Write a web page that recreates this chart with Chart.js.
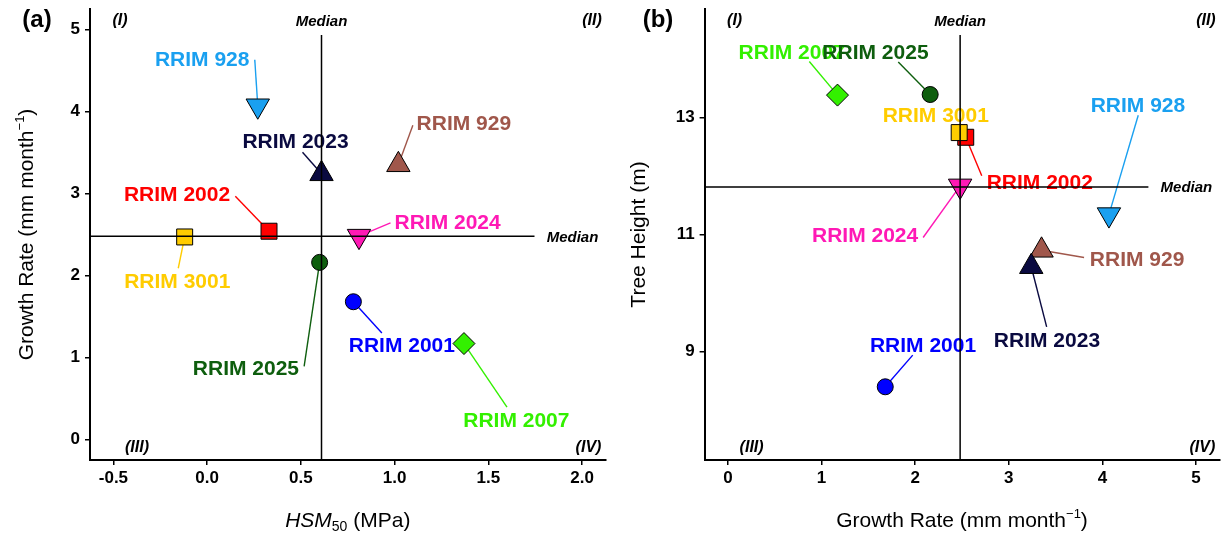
<!DOCTYPE html>
<html><head><meta charset="utf-8">
<script src="https://cdn.jsdelivr.net/npm/chart.js@4/dist/chart.umd.min.js"></script>
<style>
html,body{margin:0;padding:0;background:#fff;overflow:hidden}
#wrap{position:relative;width:1225px;height:535px;background:#fff}
canvas{position:absolute;top:0}
</style></head><body>
<div id="wrap">
<canvas id="ca" width="612" height="535" style="left:0"></canvas>
<canvas id="cb" width="613" height="535" style="left:612px"></canvas>
</div>
<script>
// ---------- data ----------
const cultivars  = ['RRIM 929','RRIM 2001','RRIM 2002','RRIM 2007','RRIM 2023','RRIM 2024','RRIM 2025','RRIM 3001','RRIM 928'];
const hsm50      = [1.02, 0.78, 0.33, 1.37, 0.61, 0.81, 0.60, -0.12, 0.27];
const growthRate = [3.35, 1.68, 2.54, 1.17, 3.24, 2.48, 2.16, 2.47, 4.07];
const treeHeight = [10.73, 8.40, 12.66, 13.38, 10.45, 11.83, 13.39, 12.74, 11.34];
const medianHSM50 = 0.61;
const medianGrowthRate = 2.48;
const medianTreeHeight = 11.81;
const ticksHSM50 = [-0.5, 0, 0.5, 1, 1.5, 2];
const ticksGrowth = [0, 1, 2, 3, 4, 5];
const ticksHeight = [9, 11, 13];

// ---------- styles ----------
const FONT = "'Liberation Sans', Arial, sans-serif";
const colors   = ['#A0574B','#0000FF','#FF0000','#33F000','#0A0A40','#FF19B5','#0E5E0E','#FFCC00','#1AA0F0'];
const shapes   = ['triangle','circle','rect','rectRot','triangle','triangle','circle','rect','triangle'];
const rotations= [0,0,0,0,0,180,0,0,180];
const radii    = [13.5,8,11.3,11,13.5,13.5,8,11.3,13.5];

// label layout (pixel offsets from the point): text centre and leader-line start
const layoutA = {
  text: [[65.5,-42],[48.5,42.6],[-92,-37.3],[52.4,75.8],[-26,-33.6],[88.6,-14.2],[-73.7,105.4],[-7.4,43.3],[-55.6,-47.7]],
  line: [[14.5,-39.6],[28.5,31.3],[-33.7,-35],[43,63.5],[-19,-21.6],[31.5,-13.2],[-15.5,104],[-6.4,31.3],[-3,-46]]
};
const layoutB = {
  text: [[95.5,8.4],[37.8,-42.7],[74,43.8],[-45.8,-43.6],[15.7,72.4],[-95,48.3],[-54.7,-42.6],[-23.4,-18.5],[29,-110.4]],
  line: [[42.5,7.2],[27.5,-31.7],[16,38.5],[-28.2,-33.6],[15.4,60.1],[-37,51.6],[-31.9,-32.6],null,[29.3,-99.4]]
};

function drawRich(ctx, parts, cx, baseY) {
  let total = 0;
  parts.forEach(p => { ctx.font = p.font; p.w = ctx.measureText(p.t).width; total += p.w; });
  let x = cx - total / 2;
  ctx.textAlign = 'left'; ctx.textBaseline = 'alphabetic';
  parts.forEach(p => { ctx.font = p.font; ctx.fillText(p.t, x, baseY + (p.dy || 0)); x += p.w; });
}
const growthTitle = () => [
  {t:'Growth Rate (mm month', font:`21px ${FONT}`},
  {t:'\u22121', font:`13px ${FONT}`, dy:-9},
  {t:')', font:`21px ${FONT}`}
];

const quadPlugin = {
  id: 'quad',
  beforeDatasetsDraw(chart, args, o) {
    const ctx = chart.ctx;
    const meta = chart.getDatasetMeta(0);
    ctx.save();
    meta.data.forEach((pt, i) => {
      const ls = o.layout.line[i];
      if (ls) {
        ctx.strokeStyle = colors[i]; ctx.lineWidth = 1.4;
        ctx.beginPath(); ctx.moveTo(pt.x + ls[0], pt.y + ls[1]); ctx.lineTo(pt.x, pt.y); ctx.stroke();
      }
    });
    ctx.font = `bold 21px ${FONT}`;
    ctx.textAlign = 'center'; ctx.textBaseline = 'alphabetic';
    meta.data.forEach((pt, i) => {
      const t = o.layout.text[i];
      ctx.fillStyle = colors[i];
      ctx.fillText(cultivars[i], pt.x + t[0], pt.y + t[1] + 7.5);
    });
    ctx.restore();
  },
  afterDatasetsDraw(chart, args, o) {
    const {ctx, chartArea: ca, scales: {x, y}} = chart;
    const mx = x.getPixelForValue(o.medianX), my = y.getPixelForValue(o.medianY);
    ctx.save();
    ctx.strokeStyle = '#000'; ctx.lineWidth = 1.5;
    ctx.beginPath();
    ctx.moveTo(ca.left, my); ctx.lineTo(ca.right - 71, my);
    ctx.moveTo(mx, 35); ctx.lineTo(mx, ca.bottom);
    ctx.stroke();
    ctx.fillStyle = '#000';
    ctx.font = `italic bold 15px ${FONT}`;
    ctx.textAlign = 'center'; ctx.textBaseline = 'alphabetic';
    ctx.fillText('Median', ca.right - 33, my + 5.4);
    ctx.fillText('Median', mx, 26);
    ctx.font = `italic bold 16px ${FONT}`;
    ctx.fillText('(I)', ca.left + 30, 25);
    ctx.fillText('(II)', ca.right - 13.5, 25);
    ctx.fillText('(III)', ca.left + 47, 452);
    ctx.fillText('(IV)', ca.right - 17, 452);
    ctx.font = `bold 24px ${FONT}`;
    ctx.fillText(o.letter, o.letterX, 27);
    const cx = (ca.left + ca.right) / 2;
    drawRich(ctx, o.xTitle(), cx, 527);
    ctx.save();
    ctx.translate(33, (ca.top + ca.bottom) / 2);
    ctx.rotate(-Math.PI / 2);
    drawRich(ctx, o.yTitle(), 0, 0);
    ctx.restore();
    ctx.restore();
  }
};

function panel(id, xs, ys, cfg) {
  const tickFont = {family: FONT, size: 17, weight: 'bold'};
  const zeroPad = s => { s.paddingTop = 0; s.paddingBottom = 0; s.paddingLeft = 0; s.paddingRight = 0; };
  new Chart(document.getElementById(id), {
    type: 'scatter',
    data: {datasets: [{
      data: xs.map((v, i) => ({x: v, y: ys[i]})),
      pointStyle: shapes, pointRotation: rotations,
      pointRadius: radii, pointHoverRadius: radii,
      backgroundColor: colors, borderColor: '#000', borderWidth: 1
    }]},
    options: {
      responsive: false, animation: false, events: [],
      layout: {autoPadding: false, padding: {left: 0, right: cfg.padRight, top: 9, bottom: 0}},
      plugins: {legend: {display: false}, tooltip: {enabled: false}, quad: cfg},
      scales: {
        x: {
          type: 'linear', position: 'bottom', min: cfg.xMin, max: cfg.xMax,
          border: {display: true, color: '#000', width: 2},
          grid: {display: true, drawOnChartArea: false, drawTicks: true, tickLength: 5, color: '#000', lineWidth: 1.5},
          ticks: {font: tickFont, color: '#000', padding: 3, maxRotation: 0, callback: cfg.xFmt},
          afterBuildTicks: s => { s.ticks = cfg.xTicks.map(v => ({value: v})); },
          afterFit: s => { s.height = 75; zeroPad(s); }
        },
        y: {
          type: 'linear', position: 'left', min: cfg.yMin, max: cfg.yMax,
          border: {display: true, color: '#000', width: 2},
          grid: {display: true, drawOnChartArea: false, drawTicks: true, tickLength: 5, color: '#000', lineWidth: 1.5},
          ticks: {font: tickFont, color: '#000', padding: 5, callback: v => String(v)},
          afterBuildTicks: s => { s.ticks = cfg.yTicks.map(v => ({value: v})); },
          afterFit: s => { s.width = cfg.yWidth; zeroPad(s); }
        }
      }
    },
    plugins: [quadPlugin]
  });
}

panel('ca', hsm50, growthRate, {
  xMin: -0.625, xMax: 2.125, yMin: -0.25, yMax: 5.25,
  xTicks: ticksHSM50, yTicks: ticksGrowth, xFmt: v => v.toFixed(1),
  yWidth: 90, padRight: 6.5,
  medianX: medianHSM50, medianY: medianGrowthRate,
  layout: layoutA, letter: '(a)', letterX: 37,
  xTitle: () => [
    {t:'HSM', font:`italic 21px ${FONT}`},
    {t:'50', font:`14px ${FONT}`, dy:4},
    {t:' (MPa)', font:`21px ${FONT}`}
  ],
  yTitle: growthTitle
});

panel('cb', growthRate, treeHeight, {
  xMin: -0.25, xMax: 5.25, yMin: 7.15, yMax: 14.85,
  xTicks: ticksGrowth, yTicks: ticksHeight, xFmt: v => String(v),
  yWidth: 92.6, padRight: 5.6,
  medianX: medianGrowthRate, medianY: medianTreeHeight,
  layout: layoutB, letter: '(b)', letterX: 46,
  xTitle: growthTitle,
  yTitle: () => [{t:'Tree Height (m)', font:`21px ${FONT}`}]
});
</script>
</body></html>
